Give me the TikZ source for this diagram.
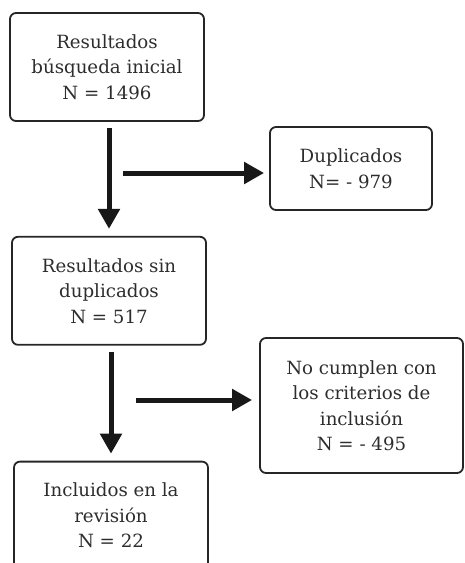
\documentclass[tikz,border=0pt]{standalone}
\usepackage{fontspec}
\setmainfont{DejaVu Serif}
\usetikzlibrary{arrows.meta,positioning}
\definecolor{boxline}{RGB}{38,38,38}
\definecolor{boxtext}{RGB}{45,45,45}
\definecolor{arrowblack}{RGB}{24,24,24}

\begin{document}
\begin{tikzpicture}[x=1pt, y=-1pt,
  box/.style={rectangle, draw=boxline, line width=1.8pt, rounded corners=6pt, minimum width=194pt, minimum height=108pt, align=center, text=boxtext, inner sep=0pt, font=\fontsize{18.2}{25.5}\selectfont},
  flow/.style={-{Triangle[length=20pt, width=21pt]}, line width=5pt, arrowblack}]

\useasboundingbox (0,0) rectangle (465,563);

\node[box] (ini) at (107,67) {Resultados\\búsqueda inicial\\N = 1496};

\node[box, below=114pt of ini, xshift=2pt] (sindup) {Resultados sin\\duplicados\\N = 517};

\node[box, below=115pt of sindup, xshift=2pt] (incl) {Incluidos en la\\revisión\\N = 22};

\node[box, minimum width=162pt, minimum height=83pt] (dup) at (351,168.5) {Duplicados\\N= - 979};

\node[box, minimum width=203pt, minimum height=135pt] (nocumple) at (361.5,405.5) {No cumplen con\\los criterios de\\inclusión\\N = - 495};

\draw[flow, shorten <=6pt, shorten >=7pt] (sindup.north |- ini.south) -- (sindup.north);

\draw[flow, shorten <=6pt, shorten >=7pt] (incl.north |- sindup.south) -- (incl.north);

\coordinate (sal1) at (123,173);
\coordinate (sal2) at (136,400);

\draw[flow, shorten >=5pt] (sal1) -- (sal1 -| dup.west);

\draw[flow, shorten >=7pt] (sal2) -- (sal2 -| nocumple.west);

\end{tikzpicture}
\end{document}
